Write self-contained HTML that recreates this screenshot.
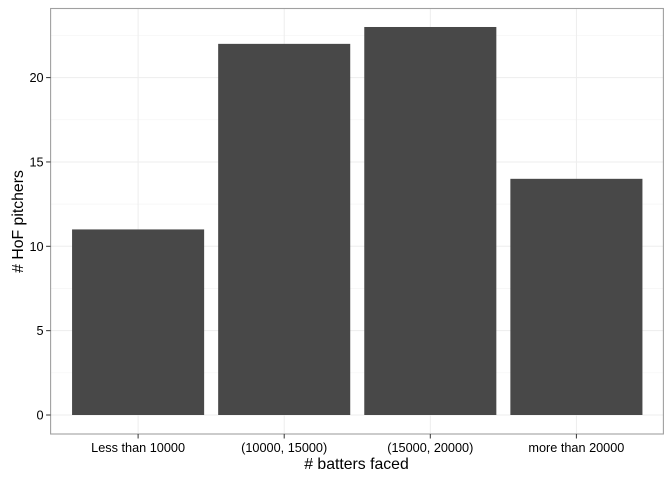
<!DOCTYPE html>
<html>
<head>
<meta charset="utf-8">
<style>
html,body{margin:0;padding:0;background:#fff;}
svg{display:block;font-family:"Liberation Sans",Arial,sans-serif;}
</style>
</head>
<body>
<svg id="chart" width="672" height="480" viewBox="0 0 672 480" xmlns="http://www.w3.org/2000/svg">
<rect x="0" y="0" width="672" height="480" fill="#ffffff"/>
<g id="grid"></g>
<g id="bars"></g>
<rect x="50.6" y="8.5" width="612.8" height="425.5" fill="none" stroke="#a0a0a0" stroke-width="1.1"/>
<g id="axes"></g>
<text x="356.5" y="469" font-size="15.8" text-anchor="middle" fill="#000">&#35; batters faced</text>
<text transform="translate(23,221.5) rotate(-90)" font-size="15.8" text-anchor="middle" fill="#000">&#35; HoF pitchers</text>
</svg>
<script>
const categories = ["Less than 10000", "(10000, 15000)", "(15000, 20000)", "more than 20000"];
const counts = [11, 22, 23, 14];
const yTicks = [0, 5, 10, 15, 20];
const yMinorTicks = [2.5, 7.5, 12.5, 17.5, 22.5];

const NS = "http://www.w3.org/2000/svg";
const panelLeft = 50.6, panelRight = 663.4, panelTop = 8.5, panelBottom = 434;
const xStep = 146.1;
function xScale(i) { return 138.1 + xStep * i; }
function yScale(v) { return 415 - v * 16.87; }

function make(tag, attrs, parent) {
  const el = document.createElementNS(NS, tag);
  for (const k in attrs) el.setAttribute(k, attrs[k]);
  parent.appendChild(el);
  return el;
}
const grid = document.getElementById("grid");
const barsG = document.getElementById("bars");
const axes = document.getElementById("axes");

yMinorTicks.forEach(function (v) {
  const y = yScale(v);
  const l = make("line", {x1: panelLeft, x2: panelRight, y1: y, y2: y, stroke: "#f5f5f5", "stroke-width": 0.7}, grid);
  
  
});
yTicks.forEach(function (v) {
  const y = yScale(v);
  const l = make("line", {x1: panelLeft, x2: panelRight, y1: y, y2: y, stroke: "#ededed", "stroke-width": 1}, grid);
  
  
  const t = make("line", {x1: panelLeft - 4.5, x2: panelLeft, y1: y, y2: y, stroke: "#333", "stroke-width": 1}, axes);
  
  
  const lab = make("text", {x: panelLeft - 7, y: y + 4.5, "font-size": 12.7, "text-anchor": "end", fill: "#000"}, axes);
  
  
  lab.textContent = v;
});
categories.forEach(function (c, i) {
  const x = xScale(i);
  const g = make("line", {x1: x, x2: x, y1: panelTop, y2: panelBottom, stroke: "#ededed", "stroke-width": 1}, grid);
  
  
  const w = xStep * 0.904;
  const b = make("rect", {x: x - w / 2, y: yScale(counts[i]), width: w, height: yScale(0) - yScale(counts[i]), fill: "#484848"}, barsG);
  
  
  const t = make("line", {x1: x, x2: x, y1: panelBottom, y2: panelBottom + 4.5, stroke: "#333", "stroke-width": 1}, axes);
  
  
  const lab = make("text", {x: x, y: 452, "font-size": 12.7, "text-anchor": "middle", fill: "#000"}, axes);
  
  
  lab.textContent = c;
});
</script>
</body>
</html>
